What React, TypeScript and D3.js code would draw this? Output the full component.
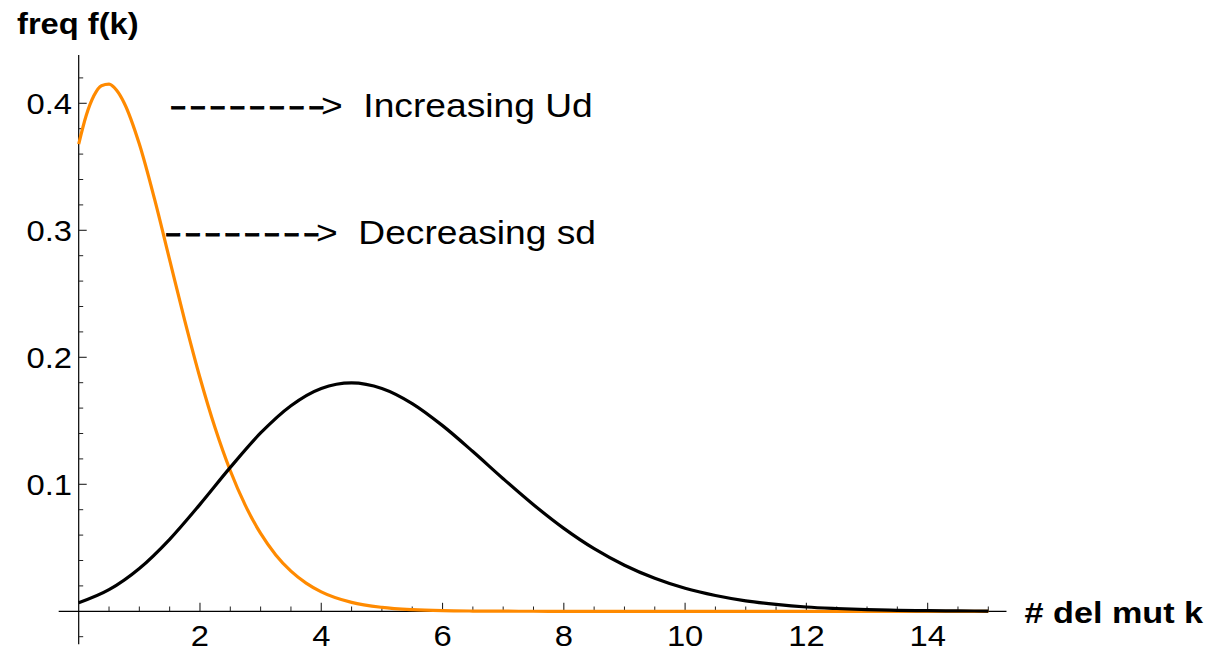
import React from "react";
import * as d3 from "d3";

// x-axis: number of deleterious mutations k; y-axis: frequency f(k)
const X_TICKS = [2, 4, 6, 8, 10, 12, 14];
const Y_TICKS = [0.1, 0.2, 0.3, 0.4];

// orange curve
const K_ORANGE = [0, 0.125, 0.25, 0.375, 0.5, 0.625, 0.75, 1, 1.25, 1.5, 1.75, 2, 2.25, 2.5, 2.75, 3, 3.25, 3.5, 3.75, 4,
  4.5, 5, 5.5, 6, 6.5, 7, 7.5, 8, 9, 10, 11, 12, 13, 14, 15];
const F_ORANGE = [0.3679, 0.3906, 0.4059, 0.4139, 0.4151, 0.4103, 0.4003, 0.3679, 0.3247, 0.2767, 0.2287, 0.1839, 0.1443, 0.1107,
  0.0832, 0.0613, 0.0444, 0.0316, 0.0222, 0.0153,
  0.0070, 0.0031, 0.0013, 0.0005, 0.0002, 0.0001, 0.00003, 0.00001, 0, 0, 0, 0, 0, 0, 0];

// black curve
const K_BLACK = [0, 0.5, 1, 1.5, 2, 2.5, 3, 3.5, 4, 4.5, 5, 5.5, 6, 6.5, 7, 7.5, 8, 8.5, 9, 9.5, 10,
  10.5, 11, 11.5, 12, 12.5, 13, 13.5, 14, 14.5, 15];
const F_BLACK = [0.0067, 0.017, 0.0337, 0.0567, 0.0842, 0.1133, 0.1404, 0.1619, 0.1755, 0.1799, 0.1755,
  0.1636, 0.1462, 0.1258, 0.1044, 0.0839, 0.0653, 0.0493, 0.0363, 0.026, 0.0181, 0.0124, 0.0082, 0.0054,
  0.0034, 0.0022, 0.0013, 0.0008, 0.0005, 0.0003, 0.0002];

const Y_LABEL = "freq f(k)";
const X_LABEL = "# del mut k";
const NOTE1 = ">  Increasing Ud";
const NOTE2 = ">  Decreasing sd";
const DASHES = "--------";

const W = 1212;
const H = 652;
const SX = 1.13;
const FONT = "'Liberation Sans', Arial, Helvetica, sans-serif";
const ORANGE = "#FF8A00";

export default function App() {
  const x = d3.scaleLinear().domain([0, 15]).range([78.7, 988.3]);
  const y = d3.scaleLinear().domain([0, 0.4]).range([611.3, 103.3]);

  const line = d3
    .line<[number, number]>()
    .x((d) => x(d[0]))
    .y((d) => y(d[1]))
    .curve(d3.curveMonotoneX);

  const orangePts = K_ORANGE.map((k, i) => [k, F_ORANGE[i]] as [number, number]);
  const blackPts = K_BLACK.map((k, i) => [k, F_BLACK[i]] as [number, number]);

  const xMinor = d3.range(1, 31).map((i) => i * 0.5).filter((v) => v % 2 !== 0);
  const yMinor = d3.range(-1, 22).map((i) => +(i * 0.02).toFixed(2)).filter((v) => Math.round(v * 100) % 10 !== 0);

  const x0 = x(0);
  const y0 = y(0);

  return (
    <svg
      width={W}
      height={H}
      style={{ position: "absolute", left: 0, top: 0, display: "block", background: "#fff" }}
      fontFamily={FONT}
    >
      {/* axes */}
      <line x1={x(-0.33)} x2={x(15.3)} y1={y0} y2={y0} stroke="#000" strokeWidth={1.2} />
      <line x1={x0} x2={x0} y1={y(0.438)} y2={y(-0.026)} stroke="#000" strokeWidth={1.2} />

      {/* x ticks */}
      {X_TICKS.map((v) => (
        <line key={"xt" + v} x1={x(v)} x2={x(v)} y1={y0} y2={y0 - 8.5} stroke="#222" strokeWidth={1.1} />
      ))}
      {xMinor.map((v) => (
        <line key={"xm" + v} x1={x(v)} x2={x(v)} y1={y0} y2={y0 - 4.8} stroke="#222" strokeWidth={1} />
      ))}
      {/* y ticks */}
      {Y_TICKS.map((v) => (
        <line key={"yt" + v} x1={x0} x2={x0 + 8} y1={y(v)} y2={y(v)} stroke="#222" strokeWidth={1.1} />
      ))}
      {yMinor.map((v) => (
        <line key={"ym" + v} x1={x0} x2={x0 + 4.5} y1={y(v)} y2={y(v)} stroke="#222" strokeWidth={1} />
      ))}

      {/* tick labels */}
      {X_TICKS.map((v) => (
        <text
          key={"xl" + v}
          transform={`translate(${x(v)},646) scale(${SX},1)`}
          textAnchor="middle"
          fontSize={29}
          fill="#000"
        >
          {v}
        </text>
      ))}
      {Y_TICKS.map((v) => (
        <text
          key={"yl" + v}
          transform={`translate(72,${y(v) + 11}) scale(${SX},1)`}
          textAnchor="end"
          fontSize={29}
          fill="#000"
        >
          {v.toFixed(1)}
        </text>
      ))}

      {/* curves */}
      <path d={line(orangePts) || ""} fill="none" stroke={ORANGE} strokeWidth={3.2} strokeLinejoin="round" />
      <path d={line(blackPts) || ""} fill="none" stroke="#000" strokeWidth={3.2} strokeLinejoin="round" />

      {/* axis labels */}
      <text transform={`translate(17,34.3) scale(1.09,1)`} fontSize={30} fontWeight="bold" fill="#000">
        {Y_LABEL}
      </text>
      <text transform={`translate(1024.5,623.3) scale(1.14,1)`} fontSize={30} fontWeight="bold" fill="#000">
        {X_LABEL}
      </text>

      {/* annotations */}
      <text transform={`translate(169.4,117.3) scale(1.55,1)`} fontSize={33.5} letterSpacing={1.6} fill="#000" stroke="#000" strokeWidth={0.9}>
        {DASHES}
      </text>
      <text transform={`translate(321,117.3) scale(1.11,1)`} fontSize={33.5} fill="#000" style={{ whiteSpace: "pre" }}>
        {NOTE1}
      </text>
      <text transform={`translate(164.4,244) scale(1.55,1)`} fontSize={33.5} letterSpacing={1.6} fill="#000" stroke="#000" strokeWidth={0.9}>
        {DASHES}
      </text>
      <text transform={`translate(316,244) scale(1.11,1)`} fontSize={33.5} fill="#000" style={{ whiteSpace: "pre" }}>
        {NOTE2}
      </text>
    </svg>
  );
}
